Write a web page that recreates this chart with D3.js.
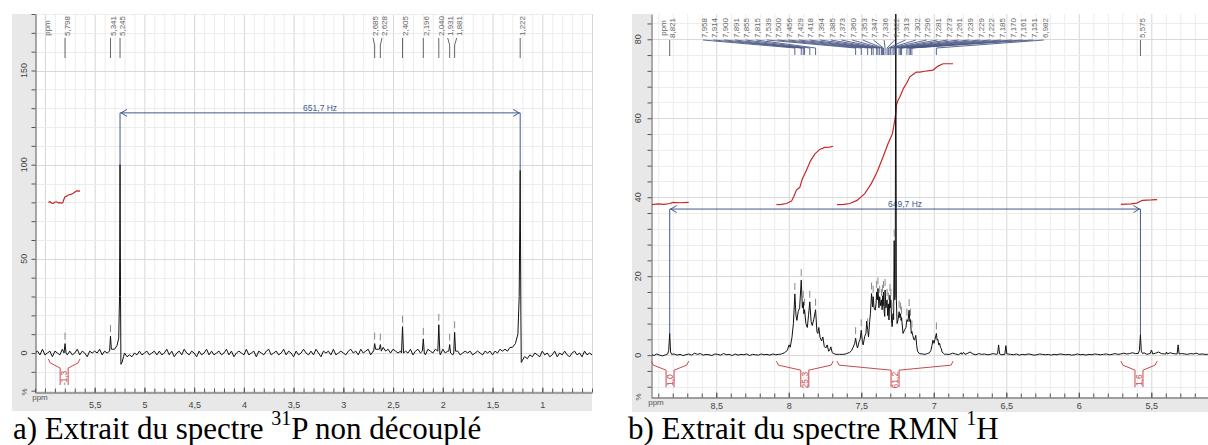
<!DOCTYPE html>
<html><head><meta charset="utf-8">
<script src="https://cdn.jsdelivr.net/npm/d3@7"></script>
<style>
body{margin:0;background:#fff}
svg{display:block}
text{font-family:Arial,"Liberation Sans",sans-serif}
.cap{font-family:"Liberation Serif","Times New Roman",serif;fill:#000}
</style></head>
<body><svg id="c" width="1208" height="445"></svg>
<script>
// ================= DATA : left panel (31P, non découplé) =================
const leftXTicks=[5.5,5,4.5,4,3.5,3,2.5,2,1.5,1];
const leftYTicks=[0,50,100,150];
const leftPeakLabels=[5.798,5.341,5.245,2.685,2.628,2.405,2.196,2.040,1.931,1.881,1.222];
const leftNoiseStart=6.10, leftNoiseStep=0.025;
const leftNoise=[
0,1,-1,2,-1,0,1,-2,1,0,-1,2,0,-1,1,-1,0,2,-1,1,0,-2,1,0,1,
0,2,-1,1,0,1,2,1,0,0,0,0,-2,-1,-2,0,-1,1,-1,0,1,-1,0,1,-1,
1,-1,0,2,-1,1,-2,0,1,-1,2,0,-1,1,0,-2,1,-1,0,2,-1,1,-1,0,1,
-1,0,2,-1,1,-2,0,1,0,-1,2,-1,0,1,-2,1,0,-1,1,2,-1,0,1,-1,0,
2,-1,1,0,-2,1,-1,0,2,0,-1,1,-1,2,0,-2,1,0,1,-1,2,-1,0,1,0,
-1,1,2,0,1,-1,2,0,1,2,-1,1,0,2,1,3,1,2,0,2,1,0,1,2,1,
0,2,-1,1,2,0,1,-1,2,1,0,2,1,-1,2,0,1,1,-1,0,1,-1,0,1,0,
1,-1,0,1,0,-1,1,0,1,-1,1,0,2,1,2,1,3,2,4,5,-3,-4,-2,-3,-1,
-2,0,-1,-2,1,-1,0,-2,-1,1,-2,0,-1,1,-1,-2,0,1,-1,0,-2,1,-1,0,-1];
const leftPeaks=[
 [[5.808,0],[5.798,5],[5.788,0]],
 [[5.350,1],[5.341,9],[5.332,2]],
 [[5.300,2],[5.275,4],[5.258,8],[5.250,30],[5.245,100],[5.240,30],[5.236,-6],[5.225,-5],[5.210,-2]],
 [[2.695,1],[2.685,5],[2.675,2]],
 [[2.638,2],[2.628,4.5],[2.618,1]],
 [[2.415,0],[2.405,14],[2.395,0]],
 [[2.206,1],[2.196,7.5],[2.186,0]],
 [[2.050,1],[2.040,15],[2.030,0]],
 [[1.940,1],[1.931,4.5],[1.922,0]],
 [[1.890,0],[1.881,11],[1.872,1]],
 [[1.300,3],[1.270,5],[1.245,10],[1.232,30],[1.222,97],[1.215,20],[1.211,-5],[1.200,-4],[1.180,-2]]
];
const leftIntegral=[[5.966,80.0],[5.949,80.3],[5.932,79.6],[5.916,79.5],[5.899,80.2],[5.882,80.3],[5.866,79.7],[5.849,79.8],[5.835,79.6],[5.821,79.8],[5.810,81.5],[5.798,83.0],[5.782,83.3],[5.765,83.9],[5.74,84.2],[5.715,84.8],[5.695,85.6],[5.675,86.2],[5.66,85.9],[5.648,86.2]];
const leftIntegralLabel="-1,3";
const leftCoupling=[5.245,1.222];
const leftCouplingLevel=127.5;
const leftCouplingText="651,7 Hz";

// ================= DATA : right panel (1H) =================
const rightXTicks=[8.5,8,7.5,7,6.5,6,5.5];
const rightYTicks=[0,20,40,60,80];
const rightSideLabels=[8.821,5.575];
const rightFanLabels=[7.958,7.914,7.900,7.891,7.855,7.815,7.539,7.500,7.456,7.429,7.418,7.394,7.385,7.373,7.360,7.353,7.347,7.336,7.322,7.313,7.302,7.296,7.281,7.273,7.261,7.239,7.229,7.222,7.185,7.170,7.161,7.151,6.982];
const rightNoiseStart=8.95, rightNoiseStep=0.02;
const rightNoise=[
0.2,-0.1,0.3,0,-0.2,0.1,0.2,0.5,0.3,0,0.2,-0.1,0.1,0.3,0,0.5,0.2,0.4,0,0.2,0.1,-0.1,0.3,0.2,
0,0.4,0.1,0.2,-0.1,0.3,0,0.2,0.1,0.3,-0.1,0.2,0.1,0,0.3,0.1,0.2,0,0.3,0.1,0.2,0.3,0.1,0.2,
0,0,0,0,0,0,0,0,0,0,0,0,0,0,0,0,0,0.2,0.2,0,0,0,0,0,
0,0,0,0,0,0,0,0,0,0,0,0,0,0,0,0,0,0,0,0,0,0,0,0,
0,0,0,0,0,0,0.2,0.2,0.5,0.3,0.1,0.6,0.2,0.4,0.8,0.3,0.1,0.4,0.2,0.3,0.1,0.2,0.4,0.2,
0.3,0.1,0.2,0.3,0.2,0.1,0.3,0,0.2,0.1,0.3,0.2,0,0.1,0.3,0.2,0.1,0.2,0,0.2,0.1,0.3,0.2,0.1,
0.2,0,0.1,0.3,0.1,0.2,0,0.2,0.1,0.3,0.2,0.1,0.2,0.3,0.1,0.2,0.4,0.2,0.3,0.5,0.3,0.4,0.6,0.4,
0.5,0.3,0.6,0.2,0.4,0.3,0.5,0.8,0.4,0.3,0.2,0.6,0.4,0.3,0.5,0.4,0.3,0.2,0.4,0.3,0.5,0.2,0.3,0.2,0.2];
const rightClusterA=[[8.07,0.2],[8.05,0.3],[8.03,0.6],[8.01,1.2],[7.998,2.6],[7.99,2.0],[7.978,4.5],[7.968,8],[7.958,15.5],[7.95,10],[7.944,8.8],[7.935,11],[7.925,12],[7.914,19],[7.906,12],[7.900,13.5],[7.896,10.5],[7.891,11.5],[7.882,8],[7.872,7],[7.864,10],[7.855,13.5],[7.846,8.5],[7.838,7.5],[7.828,9],[7.815,11.5],[7.806,6],[7.800,5.5],[7.793,7],[7.784,4.5],[7.774,3.6],[7.765,4.6],[7.755,2.2],[7.745,1.8],[7.735,2.6],[7.725,1.0],[7.718,1.2],[7.71,2.1],[7.70,0.6],[7.69,0.4],[7.675,0.2],[7.66,0.2]];
const rightClusterB=[[7.64,0.2],[7.62,0.2],[7.60,0.4],[7.58,0.7],[7.568,1.1],[7.556,2.0],[7.545,3.0],[7.539,4.3],[7.532,2.6],[7.526,1.8],[7.515,3.4],[7.508,4.0],[7.500,6.3],[7.492,3.2],[7.487,2.6],[7.476,4.8],[7.468,5.5],[7.462,8.6],[7.456,6.5],[7.450,4.6],[7.442,8.5],[7.437,10.5],[7.429,15.6],[7.422,12.2],[7.418,14.8],[7.412,12],[7.404,11.4],[7.398,13],[7.394,16],[7.389,14],[7.385,16.9],[7.378,12],[7.373,14.8],[7.366,12.5],[7.360,14],[7.356,11.5],[7.353,15],[7.350,12.5],[7.347,16],[7.342,11],[7.338,9.8],[7.336,16.5],[7.330,12],[7.322,14],[7.318,10],[7.313,13],[7.309,8.9],[7.302,15.2],[7.299,12],[7.296,14],[7.290,8],[7.287,7.2],[7.281,10.5],[7.277,9],[7.273,29],[7.269,14],[7.266,15],[7.262,95],[7.258,14],[7.253,8],[7.246,9],[7.239,11],[7.234,9.5],[7.229,10.5],[7.226,8.8],[7.222,9.5],[7.212,5.5],[7.200,6.5],[7.192,7],[7.185,9],[7.178,8.5],[7.170,11.4],[7.165,8.5],[7.161,9],[7.155,5.5],[7.151,6],[7.145,5],[7.138,4],[7.133,3.8],[7.124,5],[7.118,2.5],[7.112,1],[7.10,0.4],[7.08,0.3],[7.06,0.2],[7.045,0.4],[7.03,0.6],[7.02,1.2],[7.012,2.5],[7.006,3.8],[6.998,3],[6.992,4],[6.982,5.5],[6.977,3.8],[6.972,4],[6.966,2.6],[6.96,3],[6.954,2],[6.948,1.6],[6.943,0.8],[6.935,0.5],[6.925,0.2],[6.915,0.3]];
const rightPeaks=[
 [[8.835,0.3],[8.828,1.2],[8.821,5.5],[8.815,0.8],[8.808,0.2]],
 rightClusterA, rightClusterB,
 [[6.805,0.2],[6.795,0.7],[6.785,0.2]],
 [[6.560,0.3],[6.553,2.6],[6.546,0.3]],
 [[6.510,0.2],[6.503,2.4],[6.496,0.3]],
 [[5.590,0.4],[5.582,1.2],[5.575,5.2],[5.569,1.0],[5.560,0.4]],
 [[5.507,0.4],[5.499,1.3],[5.490,0.3]],
 [[5.400,0.3],[5.395,0.8],[5.390,0.3]],
 [[5.322,0.3],[5.315,2.6],[5.308,0.3]]
];
const rightIntegral1=[[8.947,38.1],[8.90,38.3],[8.86,38.2],[8.821,38.4],[8.798,38.7],[8.75,38.6],[8.69,38.7]];
const rightIntegral2=[[8.085,38.1],[8.05,38.2],[8.016,38.4],[7.981,39.0],[7.966,40.1],[7.947,41.8],[7.924,42.5],[7.906,44.7],[7.878,46.8],[7.85,49.2],[7.821,50.9],[7.786,52.1],[7.752,52.6],[7.72,52.7],[7.694,52.9]];
const rightIntegral3=[[7.667,38.1],[7.62,38.2],[7.579,38.4],[7.529,39.2],[7.476,40.9],[7.43,43.5],[7.391,46.4],[7.35,50.2],[7.315,53.6],[7.285,56.1],[7.269,59.5],[7.262,61.2],[7.258,63.3],[7.246,64.6],[7.234,65.4],[7.21,67.5],[7.188,68.8],[7.165,70.5],[7.143,71.1],[7.12,71.7],[7.097,71.7],[7.062,71.9],[7.005,72.2],[6.97,73.2],[6.936,73.8],[6.867,73.8]];
const rightIntegral4=[[5.71,38.2],[5.64,38.3],[5.60,38.5],[5.58,38.9],[5.56,39.2],[5.50,39.3],[5.46,39.4]];
const rightIntegralLabels=["1,0","25,3","61,2","1,6"];
const rightCoupling=[8.821,5.575];
const rightCouplingLevel=37;
const rightCouplingText="649,7 Hz";

// ================= RENDER =================
const svg=d3.select("#c");
const fmt=v=>String(v).replace(".",",");
const fmt3=v=>d3.format(".3f")(v).replace(".",",");

function buildTrace(start,step,noise,groups){
  const ranges=groups.map(g=>d3.extent(g,d=>d[0]));
  const pts=[];
  noise.forEach((v,i)=>{const p=+(start-i*step).toFixed(4);
    if(!ranges.some(r=>p>=r[0]-1e-9&&p<=r[1]+1e-9)) pts.push([p,v]);});
  groups.forEach(g=>g.forEach(d=>pts.push(d)));
  pts.sort((a,b)=>b[0]-a[0]);
  return pts;
}
function valueAt(tr,p){
  let best=-Infinity;
  tr.forEach(d=>{if(Math.abs(d[0]-p)<=0.005&&d[1]>best)best=d[1];});
  for(let i=1;i<tr.length;i++){if(tr[i][0]<=p){const a=tr[i-1],b=tr[i];const t=(a[0]-p)/((a[0]-b[0])||1);best=Math.max(best,a[1]+(b[1]-a[1])*t);break;}}
  return best;
}

function drawPanel(cfg){
  const g=svg.append("g");
  const x=d3.scaleLinear().domain(cfg.xDom).range([cfg.left,cfg.right]);
  const y=d3.scaleLinear().domain(cfg.yDom).range([cfg.bottom,cfg.top]);
  g.append("rect").attr("x",cfg.bandX).attr("y",cfg.top).attr("width",cfg.left-cfg.bandX).attr("height",cfg.bandY-cfg.top).attr("fill","#e8e8e8");
  g.append("rect").attr("x",cfg.bandX).attr("y",cfg.bottom).attr("width",cfg.right-cfg.bandX).attr("height",cfg.bandY-cfg.bottom).attr("fill","#e8e8e8");
  const lo=Math.min(...cfg.xDom),hi=Math.max(...cfg.xDom);
  const xMinor=d3.range(Math.ceil(lo*10),Math.floor(hi*10)+1).map(k=>k/10);
  const yMinor=d3.range(Math.ceil(cfg.yDom[0]/cfg.yStep),Math.floor(cfg.yDom[1]/cfg.yStep)+1).map(k=>k*cfg.yStep);
  const grid=g.append("g");
  grid.selectAll(".vg").data(xMinor).join("line")
    .attr("x1",d=>x(d)+0.5).attr("x2",d=>x(d)+0.5).attr("y1",cfg.top).attr("y2",cfg.bottom)
    .attr("stroke",d=>Math.abs(d*2-Math.round(d*2))<1e-6?"#d6d6d6":"#ececec").attr("stroke-width",1);
  grid.selectAll(".hg").data(yMinor).join("line")
    .attr("x1",cfg.left).attr("x2",cfg.right).attr("y1",d=>Math.round(y(d))+0.5).attr("y2",d=>Math.round(y(d))+0.5)
    .attr("stroke",d=>cfg.yTicks.includes(d)?"#d9d9d9":"#ececec").attr("stroke-width",1);
  const ax=g.append("g").attr("transform",`translate(0,${cfg.bottom+0.5})`)
    .call(d3.axisBottom(x).tickValues(xMinor).tickSize(-4).tickSizeOuter(0).tickFormat(""));
  ax.selectAll("text").remove();
  ax.select(".domain").attr("stroke","#555");
  ax.selectAll(".tick line").attr("stroke","#555");
  const axL=g.append("g").attr("transform",`translate(0,${cfg.bottom+0.5})`)
    .call(d3.axisBottom(x).tickValues(cfg.xTicks).tickSize(-5).tickSizeOuter(0).tickPadding(cfg.xPad).tickFormat(fmt));
  axL.select(".domain").remove();
  axL.selectAll(".tick line").attr("stroke","#555");
  axL.selectAll(".tick text").attr("font-size",9).attr("fill","#444").attr("font-family","Arial, sans-serif");
  const ay=g.append("g").attr("transform",`translate(${cfg.left+0.5},0)`)
    .call(d3.axisLeft(y).tickValues(yMinor).tickSize(4).tickSizeOuter(0).tickFormat(""));
  ay.selectAll("text").remove();
  ay.select(".domain").attr("stroke","#555");
  ay.selectAll(".tick line").attr("stroke","#555");
  g.selectAll(".ylab").data(cfg.yTicks).join("text")
    .attr("transform",d=>`translate(${cfg.yLabelX},${y(d)}) rotate(-90)`)
    .attr("text-anchor","middle").attr("dy","0.35em").attr("font-size",9).attr("fill","#444").text(d=>d);
  g.append("text").attr("transform",`translate(${cfg.yLabelX},${cfg.bottom}) rotate(-90)`).attr("text-anchor","middle").attr("dy","0.35em").attr("font-size",8).attr("fill","#555").text("%");
  g.append("text").attr("x",cfg.left+5).attr("y",cfg.bottom+8).attr("text-anchor","middle").attr("font-size",8).attr("fill","#555").text("ppm");
  g.append("text").attr("transform",`translate(${cfg.left+12},${cfg.top+14}) rotate(-90)`).attr("text-anchor","middle").attr("dy","0.35em").attr("font-size",8).attr("fill","#666").text("ppm");

  const cid="clip"+cfg.id;
  svg.append("clipPath").attr("id",cid).append("rect").attr("x",cfg.left+1).attr("y",cfg.top).attr("width",cfg.right-cfg.left-1).attr("height",cfg.bottom-cfg.top);
  const pg=g.append("g").attr("clip-path",`url(#${cid})`);
  const line=d3.line().x(d=>x(d[0])).y(d=>y(d[1]));
  const trace=buildTrace(cfg.noiseStart,cfg.noiseStep,cfg.noise,cfg.peaks);

  cfg.integrals.forEach(I=>{
    pg.append("path").attr("d",line(I)).attr("fill","none").attr("stroke","#c62828").attr("stroke-width",1.2);
  });
  const cy=y(cfg.couplingLevel);
  const [c1,c2]=cfg.coupling;
  const cg=pg.append("g").attr("stroke","#3d5a8c").attr("fill","none").attr("stroke-width",1);
  cg.append("path").attr("d",`M${x(c1)},${y(valueAt(trace,c1))}V${cy}H${x(c2)}V${y(valueAt(trace,c2))}`);
  cg.append("path").attr("d",`M${x(c1)+7},${cy-3.5}L${x(c1)+1},${cy}L${x(c1)+7},${cy+3.5}`);
  cg.append("path").attr("d",`M${x(c2)-7},${cy-3.5}L${x(c2)-1},${cy}L${x(c2)-7},${cy+3.5}`);
  pg.append("text").attr("x",(x(c1)+x(c2))/2).attr("y",cy-2).attr("text-anchor","middle").attr("font-size",8.5).attr("fill","#3d5a8c").text(cfg.couplingText);

  pg.append("path").attr("d",line(trace)).attr("fill","none").attr("stroke","#111").attr("stroke-width",1).attr("stroke-linejoin","round");

  cfg.tickPeaks.forEach(p=>{
    const v=valueAt(trace,p); const yy=y(v);
    if(yy-12<cfg.top||cfg.coupling.includes(p))return;
    pg.append("line").attr("x1",x(p)).attr("x2",x(p)).attr("y1",yy-4).attr("y2",yy-11).attr("stroke","#888").attr("stroke-width",1);
  });

  const y0=y(0);
  cfg.integrals.forEach((I,k)=>{
    const e=d3.extent(I,d=>d[0]);
    const xa=x(e[1]),xb=x(e[0]),m=(xa+xb)/2;
    const bg=g.append("g").attr("stroke","#c9494d").attr("fill","none").attr("stroke-width",1);
    bg.append("path").attr("d",`M${xa},${y0+6}L${xa+2},${y0+10}L${m-4},${y0+15}V${y0+32}`);
    bg.append("path").attr("d",`M${xb},${y0+6}L${xb-2},${y0+10}L${m+4},${y0+15}V${y0+32}`);
    g.append("text").attr("transform",`translate(${m},${y0+25}) rotate(-90)`).attr("text-anchor","middle").attr("dy","0.35em")
      .attr("font-size",8.5).attr("fill","#c9494d").text(cfg.integralLabels[k]);
  });
  return {x,y,g,trace};
}

const L=drawPanel({id:"L",left:35,right:592,top:14,bottom:392,bandX:12,bandY:411,xPad:9,
  xDom:[6.10,0.50],yDom:[-20.7,180],yStep:10,yLabelX:24,xTicks:leftXTicks,yTicks:leftYTicks,
  noiseStart:leftNoiseStart,noiseStep:leftNoiseStep,noise:leftNoise,peaks:leftPeaks,
  integrals:[leftIntegral],integralLabels:[leftIntegralLabel],
  coupling:leftCoupling,couplingLevel:leftCouplingLevel,couplingText:leftCouplingText,
  tickPeaks:leftPeakLabels});
(function(){
  const lab=leftPeakLabels.map(p=>({p,px:L.x(p),tx:L.x(p)+2.5}));
  for(let it=0;it<30;it++)for(let i=1;i<lab.length;i++){const d=lab[i].tx-lab[i-1].tx;if(d<9){const s=(9-d)/2;lab[i-1].tx-=s;lab[i].tx+=s;}}
  const lg=L.g.append("g");
  lab.forEach(l=>{
    lg.append("path").attr("d",`M${l.tx-2.5},38L${l.px},45L${l.px},58`).attr("fill","none").attr("stroke","#666").attr("stroke-width",1);
    lg.append("text").attr("transform",`translate(${l.tx},36) rotate(-90)`).attr("dy","0.35em").attr("font-size",8).attr("fill","#666").text(fmt3(l.p));
  });
})();

const R=drawPanel({id:"R",left:651,right:1208,top:14,bottom:397,bandX:632,bandY:412,xPad:5,
  xDom:[8.95,5.109],yDom:[-10.6,86.4],yStep:4,yLabelX:638,xTicks:rightXTicks,yTicks:rightYTicks,
  noiseStart:rightNoiseStart,noiseStep:rightNoiseStep,noise:rightNoise,peaks:rightPeaks,
  integrals:[rightIntegral1,rightIntegral2,rightIntegral3,rightIntegral4],integralLabels:rightIntegralLabels,
  coupling:rightCoupling,couplingLevel:rightCouplingLevel,couplingText:rightCouplingText,
  tickPeaks:rightFanLabels});
(function(){
  const lg=R.g.append("g");
  const fanStart=704, fanStep=10.65;
  rightFanLabels.forEach((p,i)=>{
    const tx=fanStart+i*fanStep, px=R.x(p);
    lg.append("path").attr("d",`M${tx-1},40L${px},48L${px},55`).attr("fill","none").attr("stroke","#4b5785").attr("stroke-width",0.9);
    lg.append("text").attr("transform",`translate(${tx},38) rotate(-90)`).attr("dy","0.35em").attr("font-size",8).attr("fill","#666").text(fmt3(p));
  });
  rightSideLabels.forEach(p=>{
    const px=R.x(p);
    lg.append("path").attr("d",`M${px},40L${px},56`).attr("fill","none").attr("stroke","#666").attr("stroke-width",1);
    lg.append("text").attr("transform",`translate(${px+2},38) rotate(-90)`).attr("dy","0.35em").attr("font-size",8).attr("fill","#666").text(fmt3(p));
  });
})();

const capA=svg.append("text").attr("class","cap").attr("x",13).attr("y",439).attr("font-size",31);
capA.append("tspan").text("a) Extrait du spectre ");
capA.append("tspan").attr("font-size",20).attr("dy",-14).text("31");
capA.append("tspan").attr("dy",14).text("P non découplé");
const capB=svg.append("text").attr("class","cap").attr("x",628).attr("y",439).attr("font-size",31);
capB.append("tspan").text("b) Extrait du spectre RMN ");
capB.append("tspan").attr("font-size",20).attr("dy",-14).text("1");
capB.append("tspan").attr("dy",14).text("H");
</script></body></html>
